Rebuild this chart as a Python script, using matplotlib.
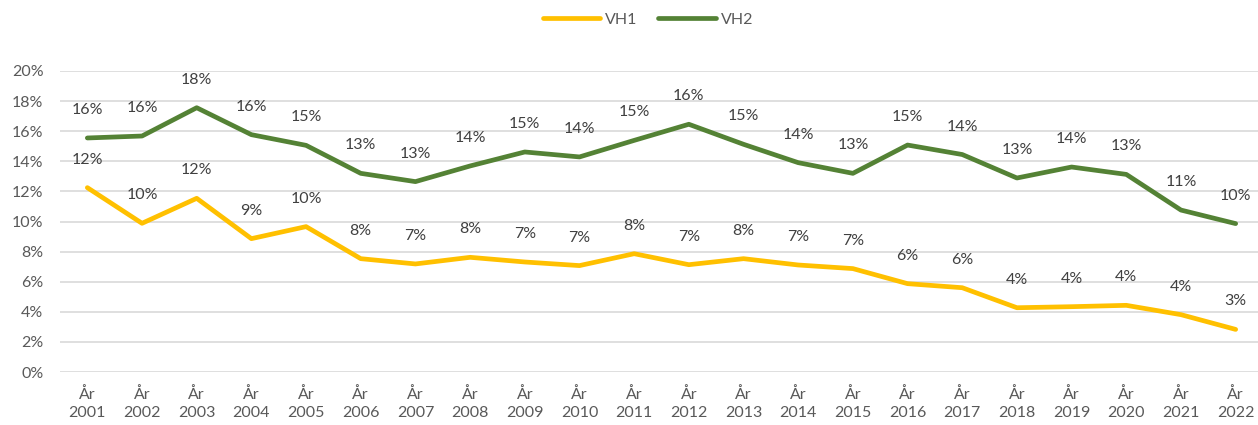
import matplotlib.pyplot as plt
from matplotlib.ticker import FuncFormatter

plt.rcParams['font.family'] = ['Lato', 'DejaVu Sans']

years = list(range(2001, 2023))
year_labels = ["År\n%d" % y for y in years]

# andel i procent
vh1 = [12.25, 9.88, 11.54, 8.86, 9.66, 7.53, 7.18, 7.62, 7.31, 7.07, 7.86,
       7.13, 7.53, 7.11, 6.87, 5.87, 5.60, 4.27, 4.34, 4.43, 3.81, 2.83]
vh2 = [15.55, 15.68, 17.56, 15.77, 15.06, 13.20, 12.65, 13.69, 14.62, 14.29, 15.39,
       16.46, 15.13, 13.91, 13.20, 15.08, 14.45, 12.89, 13.62, 13.13, 10.76, 9.86]

YELLOW = '#FFC000'
GREEN = '#548235'
TEXT = '#404040'
AXIS_TEXT = '#595959'
FS = 11.5

fig = plt.figure(figsize=(12.58, 4.25), dpi=100)
ax = fig.add_axes([60 / 1258, 53 / 425, 1203 / 1258, 301 / 425])

x = list(range(len(years)))
ax.plot(x, vh1, color=YELLOW, linewidth=3.4, label="VH1", solid_capstyle='round')
ax.plot(x, vh2, color=GREEN, linewidth=3.4, label="VH2", solid_capstyle='round')

for series in (vh1, vh2):
    for xi, v in zip(x, series):
        ax.annotate("%d%%" % round(v), (xi, v), xytext=(0, 28), textcoords='offset pixels',
                    ha='center', va='center', fontsize=FS, color=TEXT)

ax.set_ylim(0, 20)
ax.set_yticks(range(0, 21, 2))
ax.yaxis.set_major_formatter(FuncFormatter(lambda v, p: "%d%%" % v))
ax.set_xlim(-0.5, len(years) - 0.5)
ax.set_xticks(x)
ax.set_xticklabels(year_labels, linespacing=1.35)
ax.tick_params(axis='both', length=0, labelsize=FS, labelcolor=AXIS_TEXT)
ax.tick_params(axis='x', pad=11)
ax.tick_params(axis='y', pad=12)
ax.grid(axis='y', color='#D9D9D9', linewidth=1.2)
ax.set_axisbelow(True)
for s in ax.spines.values():
    s.set_visible(False)

fig.legend(loc='center', bbox_to_anchor=(648 / 1258, 1 - 20 / 425), ncol=2, frameon=False,
           fontsize=FS, labelcolor=AXIS_TEXT, handlelength=3.6, handletextpad=0.3,
           columnspacing=1.3)

fig.savefig("out.png", dpi=100)
